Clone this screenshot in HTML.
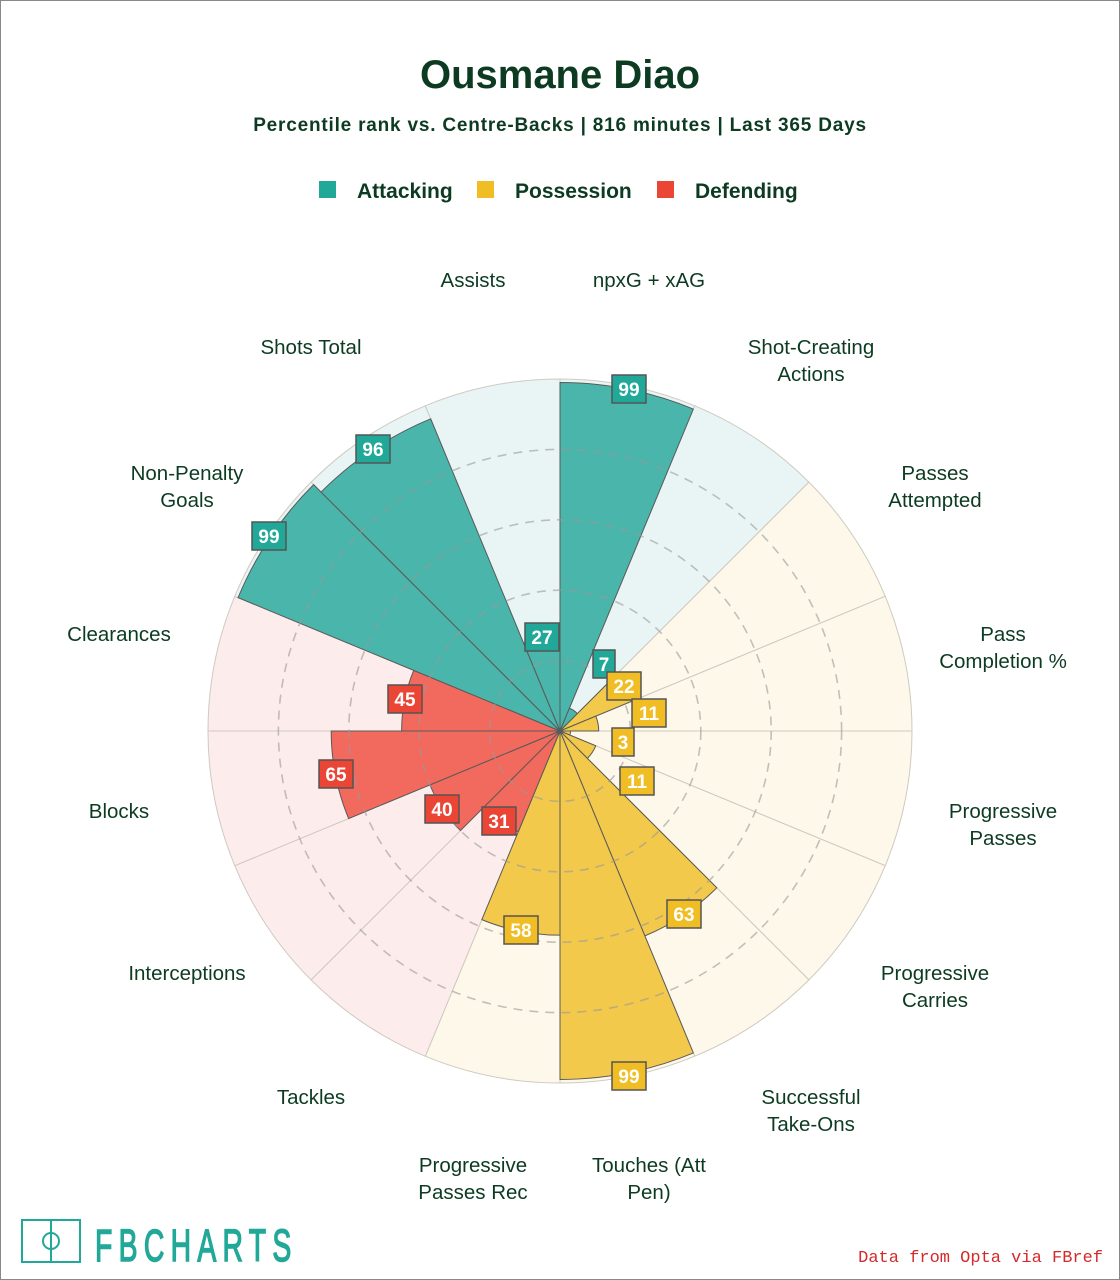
<!DOCTYPE html>
<html><head><meta charset="utf-8"><style>
html,body{margin:0;padding:0;background:#fff}
#w{position:relative;width:1118px;height:1278px;border:1px solid #888;overflow:hidden;font-family:"Liberation Sans",sans-serif}
svg{position:absolute;left:0;top:0}
</style></head><body><div id="w">
<svg id="s" width="1120" height="1280" viewBox="0 0 1120 1280"></svg>
</div>
<script>
const cx=559,cy=730,R=352;
const data=[
["npxG + xAG",99,"a",[648,279],[628,388]],
["Shot-Creating|Actions",7,"a",[810,346],[603,663]],
["Passes|Attempted",22,"p",[934,472],[623,685]],
["Pass|Completion %",11,"p",[1002,633],[648,712]],
["Progressive|Passes",3,"p",[1002,810],[622,741]],
["Progressive|Carries",11,"p",[934,972],[636,780]],
["Successful|Take-Ons",63,"p",[810,1096],[683,913]],
["Touches (Att|Pen)",99,"p",[648,1164],[628,1075]],
["Progressive|Passes Rec",58,"p",[472,1164],[520,929]],
["Tackles",31,"d",[310,1096],[498,820]],
["Interceptions",40,"d",[186,972],[441,808]],
["Blocks",65,"d",[118,810],[335,773]],
["Clearances",45,"d",[118,633],[404,698]],
["Non-Penalty|Goals",99,"a",[186,472],[268,535]],
["Shots Total",96,"a",[310,346],[372,448]],
["Assists",27,"a",[472,279],[541,636]]];
const bg={a:"#e8f5f4",p:"#fdf8e9",d:"#fdecec"},bar={a:"#4ab5aa",p:"#f2c94a",d:"#f2695d"},box={a:"#22a898",p:"#f0bd24",d:"#ea4535"};
function pt(r,a){a=a*Math.PI/180;return [cx+r*Math.sin(a),cy-r*Math.cos(a)];}
function wedge(r,a0,a1){const p0=pt(r,a0),p1=pt(r,a1);return `M${cx},${cy}L${p0[0].toFixed(2)},${p0[1].toFixed(2)}A${r},${r} 0 0 1 ${p1[0].toFixed(2)},${p1[1].toFixed(2)}Z`;}
let h='';
h+=`<text x="559" y="87" text-anchor="middle" font-size="40" font-weight="bold" fill="#0c3b22">Ousmane Diao</text>`;
h+=`<text x="559" y="130" text-anchor="middle" font-size="19" font-weight="bold" fill="#0c3b22" letter-spacing="0.8">Percentile rank vs. Centre-Backs | 816 minutes | Last 365 Days</text>`;
[["Attacking",318,"a"],["Possession",476,"p"],["Defending",656,"d"]].forEach(l=>{h+=`<rect x="${l[1]}" y="180" width="17" height="17" fill="${box[l[2]]}"/><text x="${l[1]+38}" y="197" font-size="21" font-weight="bold" fill="#0c3b22">${l[0]}</text>`;});
data.forEach((d,i)=>{h+=`<path d="${wedge(R,i*22.5,(i+1)*22.5)}" fill="${bg[d[2]]}" stroke="#cfcac0" stroke-width="1"/>`;});
data.forEach((d,i)=>{h+=`<path d="${wedge(R*d[1]/100,i*22.5,(i+1)*22.5)}" fill="${bar[d[2]]}" stroke="#5a5a5a" stroke-width="1"/>`;});
[0.2,0.4,0.6,0.8].forEach(f=>{h+=`<circle cx="${cx}" cy="${cy}" r="${R*f}" fill="none" stroke="#999" stroke-opacity="0.6" stroke-width="1.6" stroke-dasharray="9,7"/>`;});
data.forEach((d,i)=>{
 const [lx,ly]=d[3];const lines=d[0].split("|");
 lines.forEach((t,j)=>{h+=`<text x="${lx}" y="${ly+7+j*27}" text-anchor="middle" font-size="20.5" fill="#0c3b22">${t}</text>`;});
 const [bx,by]=d[4];const w=String(d[1]).length>1?34:22;
 h+=`<rect x="${bx-w/2}" y="${by-14}" width="${w}" height="28" fill="${box[d[2]]}" stroke="#555" stroke-width="1.5"/><text x="${bx}" y="${by+7}" text-anchor="middle" font-size="19" font-weight="bold" fill="#fff">${d[1]}</text>`;
});
h+=`<rect x="21" y="1219" width="58" height="42" fill="none" stroke="#22a898" stroke-width="2"/><line x1="50" y1="1219" x2="50" y2="1261" stroke="#22a898" stroke-width="2"/><circle cx="50" cy="1240" r="8" fill="none" stroke="#22a898" stroke-width="2"/>`;
h+=`<text x="0" y="0" font-size="45" fill="#22a898" stroke="#22a898" stroke-width="1.5" transform="translate(94,1260) scale(0.63,1)" letter-spacing="10">FBCHARTS</text>`;
h+=`<text x="1102" y="1261" text-anchor="end" font-size="17" fill="#d42a2a" font-family="Liberation Mono,monospace">Data from Opta via FBref</text>`;
document.getElementById('s').innerHTML=h;
</script>
</body></html>
